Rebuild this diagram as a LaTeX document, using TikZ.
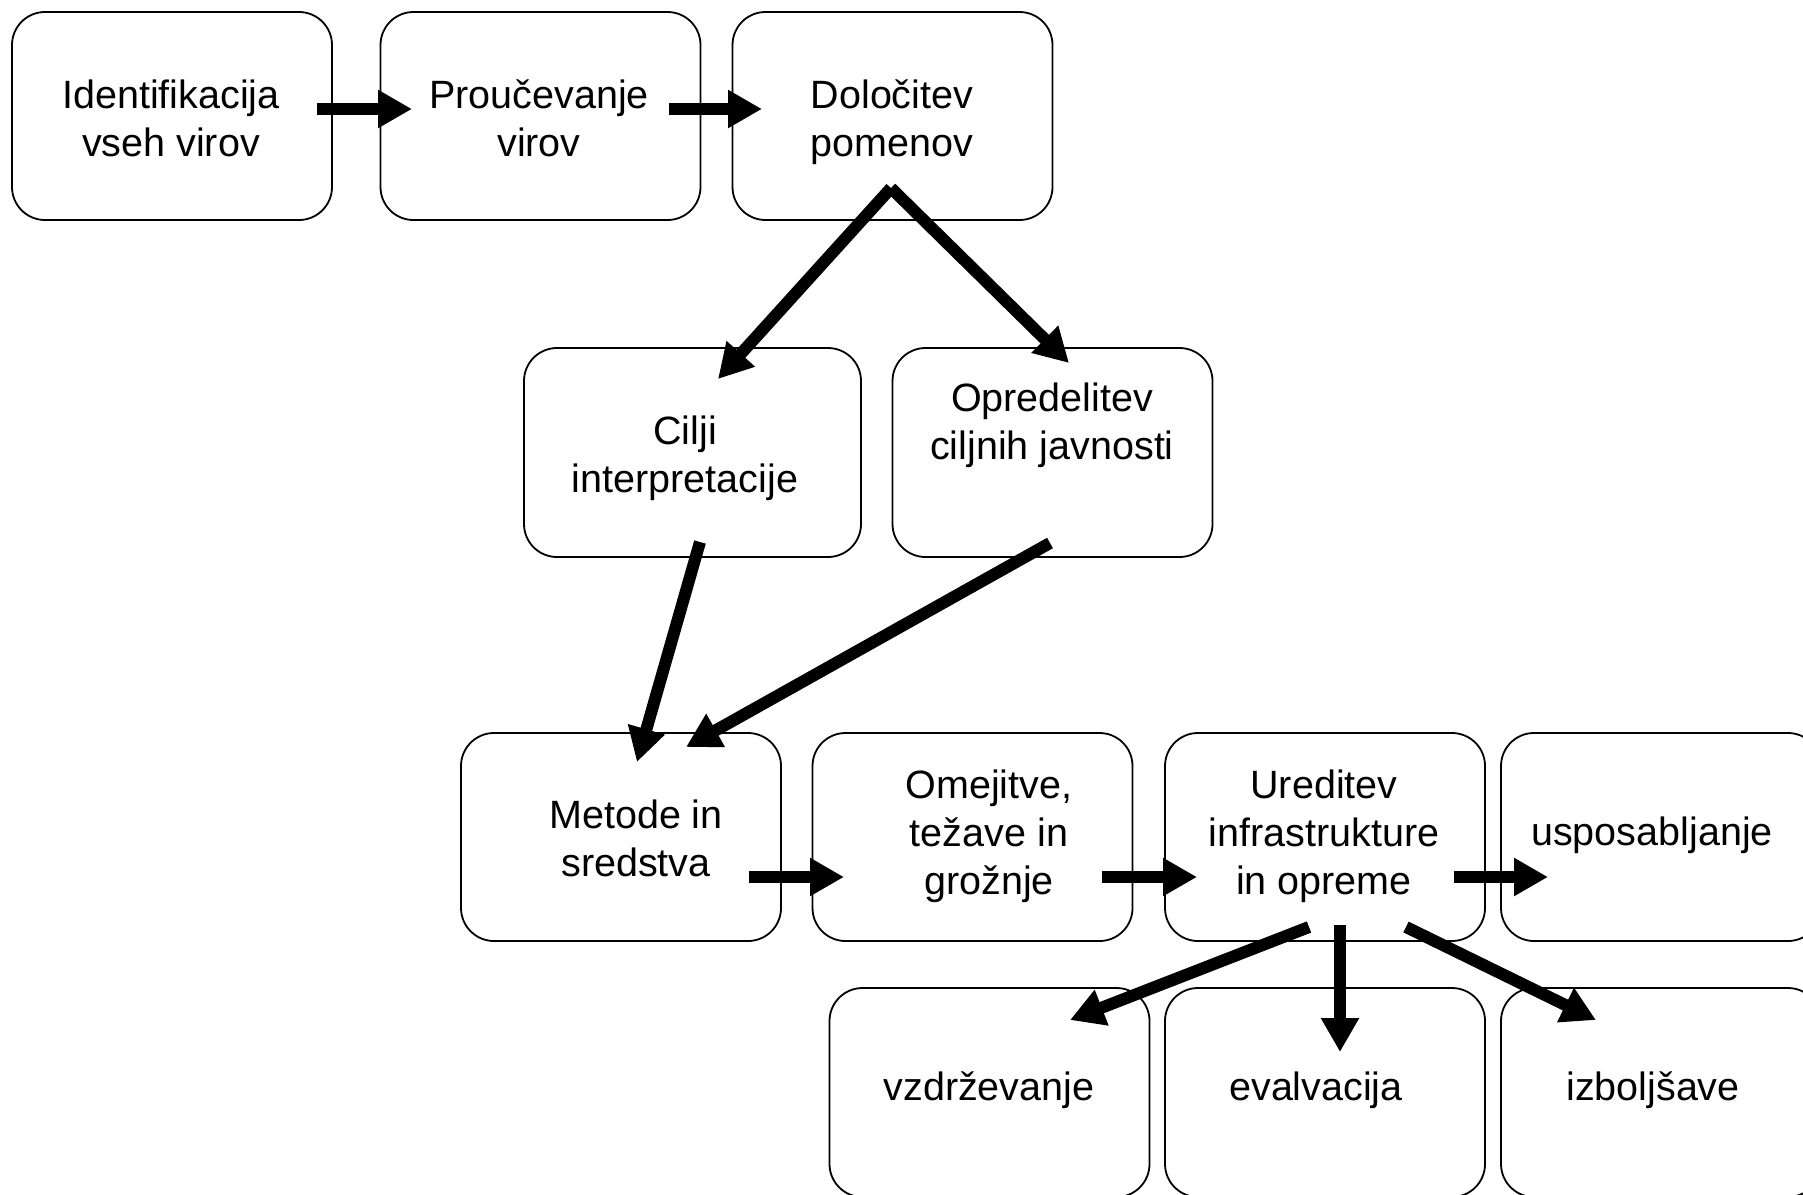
\documentclass[tikz,border=0pt]{standalone}
\usepackage{fontspec}
\setmainfont{Liberation Sans}
\usetikzlibrary{arrows.meta}
\begin{document}
\begin{tikzpicture}[x=1pt,y=-1pt,
  box/.style={draw=black, line width=1.8pt, rounded corners=33pt, minimum height=208pt, minimum width=320pt, inner sep=0pt},
  txt/.style={anchor=base, inner sep=0pt, font=\fontsize{39.5}{48}\selectfont},
  arr/.style={line width=12pt, -{Triangle[length=34pt,width=36pt]}}]
\useasboundingbox (0,0) rectangle (1803,1194);
\clip (0,0) rectangle (1803,1194);
% boxes
\node[box] (b1) at (172,116) {};
\node[box] (b2) at (540.5,116) {};
\node[box] (b3) at (892.5,116) {};
\node[box, minimum width=337pt, minimum height=209pt] (b4) at (692.5,452.5) {};
\node[box, minimum height=209pt] (b5) at (1052.5,452.5) {};
\node[box] (b6) at (621,837) {};
\node[box] (b7) at (972.5,837) {};
\node[box] (b8) at (1325,837) {};
\node[box] (b9) at (1661,837) {};
\node[box, minimum height=209pt] (b10) at (989.5,1092.5) {};
\node[box, minimum height=209pt] (b11) at (1325,1092.5) {};
\node[box, minimum height=209pt] (b12) at (1661,1092.5) {};
% texts
\node[txt] (t1a) at (171,108) {Identifikacija};
\node[txt] (t1b) at (171,156) {vseh virov};
\node[txt] (t2a) at (539,108) {Proučevanje};
\node[txt] (t2b) at (539,156) {virov};
\node[txt] (t3a) at (892,108) {Določitev};
\node[txt] (t3b) at (892,156) {pomenov};
\node[txt] (t4a) at (685,444) {Cilji};
\node[txt] (t4b) at (685,492) {interpretacije};
\node[txt] (t5a) at (1052,411) {Opredelitev};
\node[txt] (t5b) at (1052,459) {ciljnih javnosti};
\node[txt] (t6a) at (636,828) {Metode in};
\node[txt] (t6b) at (636,876) {sredstva};
\node[txt] (t7a) at (989,798) {Omejitve,};
\node[txt] (t7b) at (989,846) {težave in};
\node[txt] (t7c) at (989,894) {grožnje};
\node[txt] (t8a) at (1324,798) {Ureditev};
\node[txt] (t8b) at (1324,846) {infrastrukture};
\node[txt] (t8c) at (1324,894) {in opreme};
\node[txt] (t9) at (1652,845) {usposabljanje};
\node[txt] (t10) at (989,1100) {vzdrževanje};
\node[txt] (t11) at (1316,1100) {evalvacija};
\node[txt] (t12) at (1653,1100) {izboljšave};
% arrow end points
\coordinate (a1s) at (317,109);  \coordinate (a1e) at (412,109);
\coordinate (a2s) at (669,109);  \coordinate (a2e) at (762,109);
\coordinate (a3s) at (891,188);  \coordinate (a3e) at (718,379);
\coordinate (a4e) at (1069,363);
\coordinate (a5s) at (700,542);  \coordinate (a5e) at (637,762);
\coordinate (a6s) at (1050,543); \coordinate (a6e) at (686,747);
\coordinate (a7s) at (749,877);  \coordinate (a7e) at (844,877);
\coordinate (a8s) at (1102,877); \coordinate (a8e) at (1197,877);
\coordinate (a9s) at (1454,877); \coordinate (a9e) at (1548,877);
\coordinate (a10s) at (1309,927); \coordinate (a10e) at (1070,1020);
\coordinate (a11s) at (1340,925); \coordinate (a11e) at (1340,1052);
\coordinate (a12s) at (1406,927); \coordinate (a12e) at (1596,1020);
% arrows
\draw[arr] (a1s) -- (a1e);
\draw[arr] (a2s) -- (a2e);
\draw[arr] (a3s) -- (a3e);
\draw[arr] (a3s) -- (a4e);
\draw[arr] (a5s) -- (a5e);
\draw[arr] (a6s) -- (a6e);
\draw[arr] (a7s) -- (a7e);
\draw[arr] (a8s) -- (a8e);
\draw[arr] (a9s) -- (a9e);
\draw[arr] (a10s) -- (a10e);
\draw[arr] (a11s) -- (a11e);
\draw[arr] (a12s) -- (a12e);
\end{tikzpicture}
\end{document}
